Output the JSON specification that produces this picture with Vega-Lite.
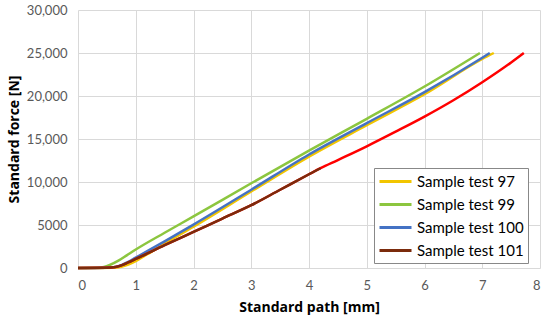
{
  "$schema": "https://vega.github.io/schema/vega-lite/v6.json",
  "width": 462,
  "height": 258,
  "autosize": "none",
  "padding": {"left": 78, "top": 10, "right": 10, "bottom": 58},
  "background": "white",
  "config": {
    "font": "Lato",
    "view": {"stroke": null},
    "axis": {"labelFont": "Lato", "titleFont": "Open Sans", "labelColor": "#595959", "labelFontSize": 13, "titleFontSize": 14, "titleFontWeight": "bold", "titleColor": "#000", "gridColor": "#D9D9D9", "gridWidth": 1, "domain": false, "ticks": false}
  },
  "data": {"values": [
    {"s":"Sample test 97","x":0,"y":0},{"s":"Sample test 97","x":0.6,"y":40},{"s":"Sample test 97","x":0.75,"y":150},{"s":"Sample test 97","x":0.87,"y":400},{"s":"Sample test 97","x":1,"y":800},{"s":"Sample test 97","x":1.2,"y":1600},{"s":"Sample test 97","x":1.5,"y":2850},{"s":"Sample test 97","x":2,"y":4800},{"s":"Sample test 97","x":3,"y":8900},{"s":"Sample test 97","x":4,"y":12950},{"s":"Sample test 97","x":5,"y":16600},{"s":"Sample test 97","x":6,"y":20200},{"s":"Sample test 97","x":7,"y":24300},{"s":"Sample test 97","x":7.2,"y":25000},
    {"s":"Sample test 99","x":0,"y":0},{"s":"Sample test 99","x":0.33,"y":20},{"s":"Sample test 99","x":0.45,"y":120},{"s":"Sample test 99","x":0.55,"y":350},{"s":"Sample test 99","x":0.7,"y":850},{"s":"Sample test 99","x":0.85,"y":1500},{"s":"Sample test 99","x":1,"y":2150},{"s":"Sample test 99","x":1.5,"y":4100},{"s":"Sample test 99","x":2,"y":6000},{"s":"Sample test 99","x":3,"y":9850},{"s":"Sample test 99","x":4,"y":13650},{"s":"Sample test 99","x":5,"y":17350},{"s":"Sample test 99","x":6,"y":21100},{"s":"Sample test 99","x":6.96,"y":25000},
    {"s":"Sample test 100","x":0,"y":0},{"s":"Sample test 100","x":0.5,"y":40},{"s":"Sample test 100","x":0.65,"y":130},{"s":"Sample test 100","x":0.75,"y":330},{"s":"Sample test 100","x":0.87,"y":700},{"s":"Sample test 100","x":1,"y":1200},{"s":"Sample test 100","x":1.5,"y":3100},{"s":"Sample test 100","x":2,"y":5050},{"s":"Sample test 100","x":3,"y":9100},{"s":"Sample test 100","x":4,"y":13200},{"s":"Sample test 100","x":5,"y":16850},{"s":"Sample test 100","x":6,"y":20450},{"s":"Sample test 100","x":7,"y":24450},{"s":"Sample test 100","x":7.13,"y":25000},
    {"s":"101 continued","x":0,"y":0},{"s":"101 continued","x":0.5,"y":30},{"s":"101 continued","x":0.65,"y":120},{"s":"101 continued","x":0.75,"y":300},{"s":"101 continued","x":0.87,"y":650},{"s":"101 continued","x":1,"y":1050},{"s":"101 continued","x":1.5,"y":2650},{"s":"101 continued","x":2,"y":4200},{"s":"101 continued","x":2.5,"y":5750},{"s":"101 continued","x":3,"y":7300},{"s":"101 continued","x":3.5,"y":9100},{"s":"101 continued","x":4,"y":10900},{"s":"101 continued","x":4.2,"y":11600},{"s":"101 continued","x":4.5,"y":12550},{"s":"101 continued","x":5,"y":14150},{"s":"101 continued","x":5.5,"y":15850},{"s":"101 continued","x":6,"y":17600},{"s":"101 continued","x":6.5,"y":19500},{"s":"101 continued","x":7,"y":21600},{"s":"101 continued","x":7.5,"y":23900},{"s":"101 continued","x":7.72,"y":25000},
    {"s":"Sample test 101","x":0,"y":0},{"s":"Sample test 101","x":0.5,"y":30},{"s":"Sample test 101","x":0.65,"y":120},{"s":"Sample test 101","x":0.75,"y":300},{"s":"Sample test 101","x":0.87,"y":650},{"s":"Sample test 101","x":1,"y":1050},{"s":"Sample test 101","x":1.5,"y":2650},{"s":"Sample test 101","x":2,"y":4200},{"s":"Sample test 101","x":2.5,"y":5750},{"s":"Sample test 101","x":3,"y":7300},{"s":"Sample test 101","x":3.5,"y":9100},{"s":"Sample test 101","x":4,"y":10900},{"s":"Sample test 101","x":4.2,"y":11600}
  ]},
  "mark": {"type": "line", "strokeWidth": 2.5, "strokeCap": "butt", "interpolate": "monotone"},
  "encoding": {
    "x": {"field": "x", "type": "quantitative", "title": "Standard path [mm]", "scale": {"domain": [0, 8], "nice": false}, "axis": {"values": [0,1,2,3,4,5,6,7,8], "labelPadding": 11, "titlePadding": 8}},
    "y": {"field": "y", "type": "quantitative", "title": "Standard force [N]", "scale": {"domain": [0, 30000], "nice": false}, "axis": {"values": [0,5000,10000,15000,20000,25000,30000], "labelExpr": "datum.value >= 10000 ? format(datum.value, ',') : format(datum.value, 'd')", "labelPadding": 11, "titlePadding": 5}},
    "color": {"field": "s", "type": "nominal", "sort": null,
      "scale": {"domain": ["Sample test 97","Sample test 99","Sample test 100","Sample test 101","101 continued"], "range": ["#F2C500","#8CC63F","#4472C4","#7B2B0C","#FF0000"]},
      "legend": {"title": null, "values": ["Sample test 97","Sample test 99","Sample test 100","Sample test 101"], "orient": "none", "legendX": 296, "legendY": 158, "symbolType": "M-1,0H3", "symbolSize": 256, "symbolStrokeWidth": 3, "labelFontSize": 15, "labelFont": "Lato", "labelColor": "#000", "rowPadding": 5, "padding": 4, "strokeColor": "#888", "fillColor": "white", "labelOffset": 20, "offset": 0}},
    "order": {"field": "x", "type": "quantitative"}
  }
}
